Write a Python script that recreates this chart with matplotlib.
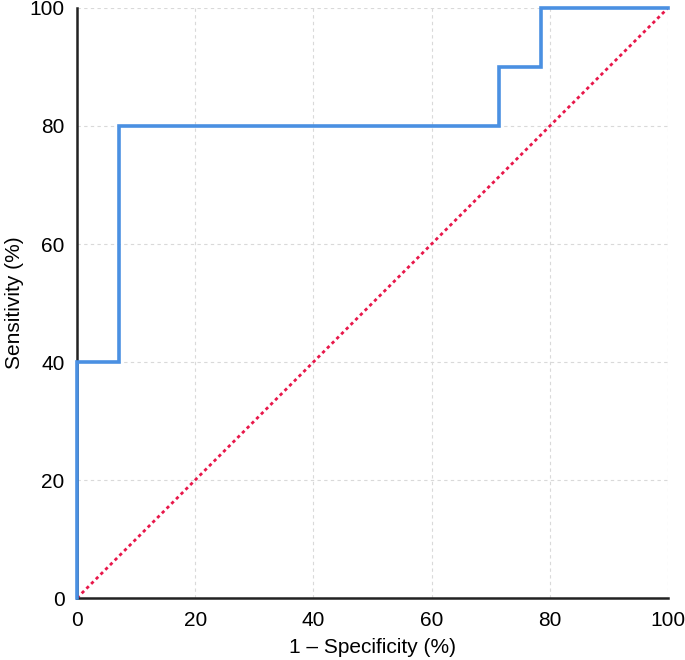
import matplotlib.pyplot as plt

# ROC curve values (percent)
fpr = [0, 0, 7.14, 7.14, 71.43, 71.43, 78.57, 78.57, 100]
tpr = [0, 40, 40, 80, 80, 90, 90, 100, 100]
ref_x = [0, 100]
ref_y = [0, 100]
ticks = [0, 20, 40, 60, 80, 100]

plt.rcParams['font.family'] = ['Liberation Sans', 'DejaVu Sans']

fig = plt.figure(figsize=(6.85, 6.6), dpi=100)
ax = fig.add_axes([0.1124, 0.0939, 0.8628, 0.894])

ax.plot(ref_x, ref_y, color='#e8174a', linestyle=(0, (1.2, 1.2)), linewidth=2, zorder=2)
ax.plot(fpr, tpr, color='#4a90e2', linewidth=2.6, zorder=4, solid_joinstyle='miter',
        clip_on=False)

ax.set_xlim(0, 100)
ax.set_ylim(0, 100)
ax.set_xticks(ticks)
ax.set_yticks(ticks)
ax.tick_params(length=0, labelsize=15, pad=9)
ax.grid(True, color='#d9d9d9', linestyle=(0, (3, 3)), linewidth=0.8)
ax.set_axisbelow(True)

for s in ['top', 'right']:
    ax.spines[s].set_visible(False)
for s in ['left', 'bottom']:
    ax.spines[s].set_color('#222222')
    ax.spines[s].set_linewidth(1.8)
    ax.spines[s].set_zorder(3)

ax.set_xlabel('1 – Specificity (%)', fontsize=15, labelpad=6)
ax.set_ylabel('Sensitivity (%)', fontsize=15, labelpad=4)

fig.savefig('out.png', dpi=100)
